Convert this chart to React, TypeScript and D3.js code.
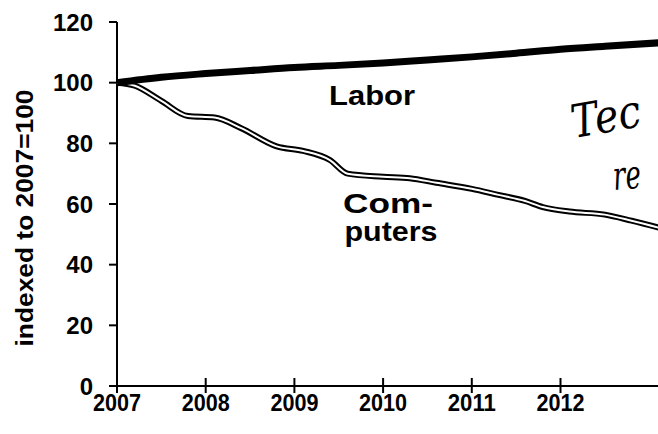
import React from "react";
import * as d3 from "d3";

const yearTicks = [2007, 2008, 2009, 2010, 2011, 2012];
const valueTicks = [0, 20, 40, 60, 80, 100, 120];

const laborYears = [2007, 2007.5, 2008, 2008.5, 2009, 2009.5, 2010, 2010.5, 2011, 2011.5, 2012, 2012.5, 2013.2];
const laborValues = [100, 101.8, 103, 104, 105, 105.7, 106.5, 107.5, 108.5, 109.7, 111, 112, 113.3];

const compYears = [2007, 2007.2, 2007.5, 2007.8, 2008.1, 2008.4, 2008.8, 2009.1, 2009.4, 2009.6, 2010.0, 2010.3, 2010.6, 2011.0, 2011.3, 2011.6, 2011.8, 2012.1, 2012.5, 2012.8, 2013.2];
const compValues = [100, 99, 94, 89, 88.5, 85, 79, 77.5, 74.5, 70, 69, 68.5, 67, 65, 63, 61, 59, 57.5, 56.5, 54.5, 51.5];

const yAxisTitle = "indexed to 2007=100";
const laborLabel = "Labor";
const compLabel = ["Com-", "puters"];
const handLines = ["Tec", "re"];

export default function App() {
  const W = 658, H = 434;
  const x = d3.scaleLinear().domain([2007, 2013.5]).range([117, 117 + 6.5 * 88.7]);
  const y = d3.scaleLinear().domain([0, 120]).range([386, 22]);

  const labor = laborYears.map((yr, i) => [yr, laborValues[i]] as [number, number]);
  const comp = compYears.map((yr, i) => [yr, compValues[i]] as [number, number]);
  const line = d3.line<[number, number]>().x(d => x(d[0])).y(d => y(d[1])).curve(d3.curveMonotoneX);

  const font = "'Liberation Sans', Arial, sans-serif";

  return (
    <svg width={W} height={H} style={{ position: "absolute", left: 0, top: 0, background: "#fff" }}>
      <rect width={W} height={H} fill="#fff" />
      {/* y axis */}
      <line x1={x(2007)} x2={x(2007)} y1={y(120)} y2={y(0) + 7} stroke="#000" strokeWidth={2} />
      {valueTicks.map(v => (
        <g key={v}>
          <line x1={x(2007) - 8} x2={x(2007)} y1={y(v)} y2={y(v)} stroke="#000" strokeWidth={2} />
          <text x={93} y={y(v)} dy="0.36em" textAnchor="end" fontFamily={font} fontWeight="bold" fontSize={24} fill="#000">{v}</text>
        </g>
      ))}
      {/* x axis */}
      <line x1={x(2007)} x2={W} y1={y(0)} y2={y(0)} stroke="#000" strokeWidth={2} />
      {yearTicks.map(t => (
        <g key={t}>
          <line x1={x(t)} x2={x(t)} y1={y(0) - 8} y2={y(0) + 7} stroke="#000" strokeWidth={2} />
          <text x={x(t)} y={411} textAnchor="middle" fontFamily={font} fontWeight="bold" fontSize={24} textLength={48} lengthAdjust="spacingAndGlyphs" fill="#000">{t}</text>
        </g>
      ))}
      <text transform={`translate(33,218) rotate(-90)`} textAnchor="middle" fontFamily={font} fontWeight="bold" fontSize={24} textLength={257} lengthAdjust="spacingAndGlyphs" fill="#000">{yAxisTitle}</text>

      {/* Computers: double line */}
      <path d={line(comp) || ""} fill="none" stroke="#000" strokeWidth={6} strokeLinejoin="round" />
      <path d={line(comp) || ""} fill="none" stroke="#fff" strokeWidth={2} strokeLinejoin="round" />
      {/* Labor */}
      <path d={line(labor) || ""} fill="none" stroke="#000" strokeWidth={7} strokeLinejoin="round" />

      <text x={372} y={105} textAnchor="middle" fontFamily={font} fontWeight="bold" fontSize={28} textLength={86} lengthAdjust="spacingAndGlyphs" fill="#000">{laborLabel}</text>
      <text x={388} y={213} textAnchor="middle" fontFamily={font} fontWeight="bold" fontSize={28} textLength={90} lengthAdjust="spacingAndGlyphs" fill="#000">{compLabel[0]}</text>
      <text x={391} y={241} textAnchor="middle" fontFamily={font} fontWeight="bold" fontSize={28} textLength={93} lengthAdjust="spacingAndGlyphs" fill="#000">{compLabel[1]}</text>

      <text transform="translate(574,138) rotate(-10)" fontFamily="'DejaVu Serif', serif" fontStyle="italic" fontSize={46} textLength={70} lengthAdjust="spacingAndGlyphs" fill="#000">{handLines[0]}</text>
      <text transform="translate(614,190) rotate(-5)" fontFamily="'DejaVu Serif', serif" fontStyle="italic" fontSize={40} textLength={28} lengthAdjust="spacingAndGlyphs" fill="#000">{handLines[1]}</text>
    </svg>
  );
}
